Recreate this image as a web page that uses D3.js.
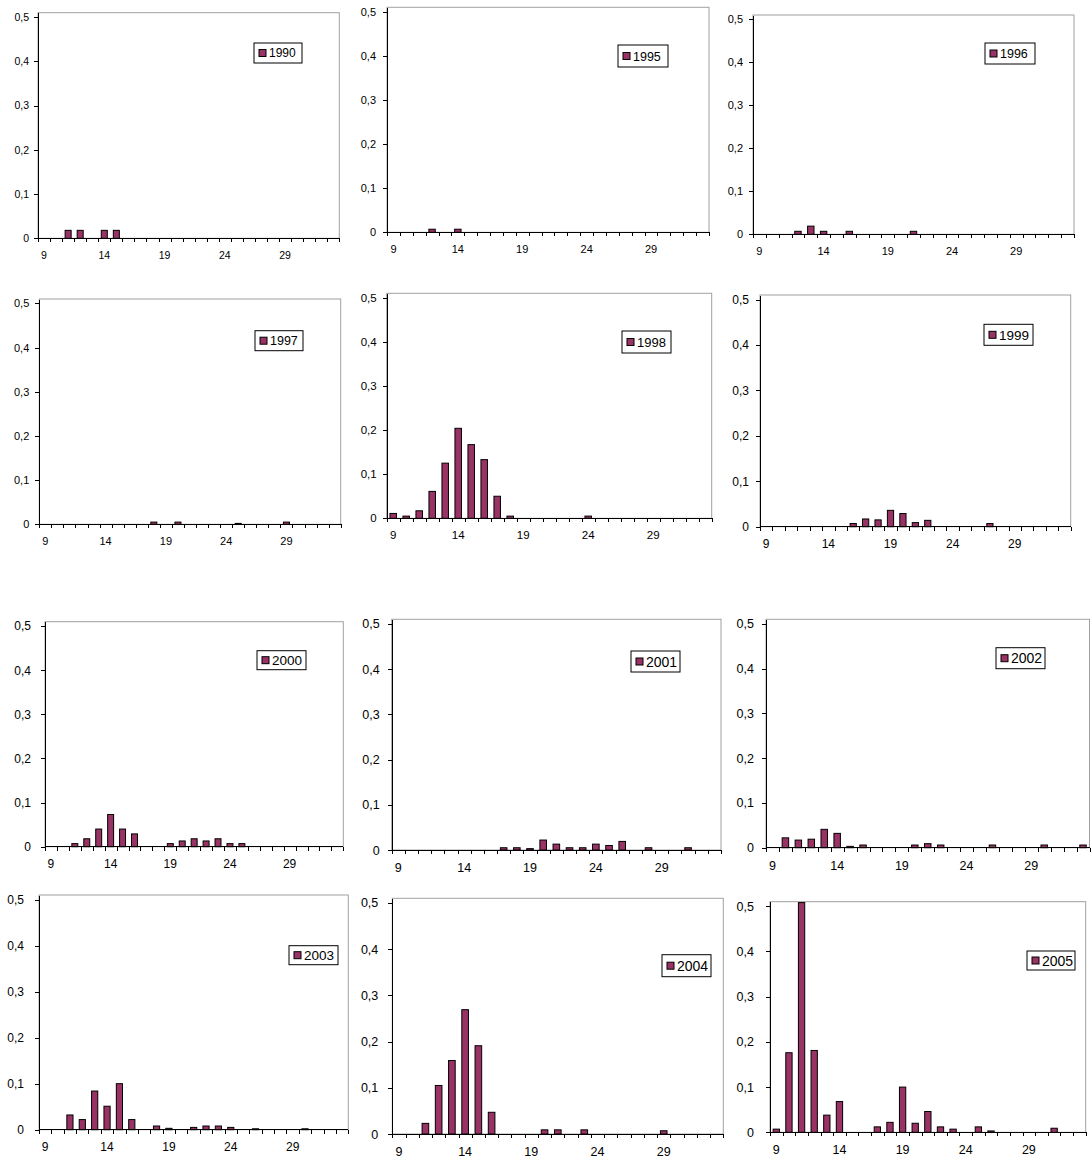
<!DOCTYPE html>
<html>
<head>
<meta charset="utf-8">
<style>
    body {
        margin: 0;
        background: white;
        font-family: "Liberation Sans", Arial, sans-serif;
    }
    #view {
        display: block;
        width: 1092px;
        height: 1160px;
    }
    .frame { fill: none; stroke: #a0a0a0; stroke-width: 1; }
    .bar { fill: #993366; stroke: black; stroke-width: 1; }
    .axis path, .axis line { stroke: black; shape-rendering: crispEdges; }
    .axis text { fill: black; }
    .legend rect.box { fill: white; stroke: black; stroke-width: 1; }
</style>
</head>
<body>

<svg id="view"></svg>

<script src="https://cdnjs.cloudflare.com/ajax/libs/d3/7.8.5/d3.min.js"></script>

<script>
    // ages on the x axis
    const ages = [9, 10, 11, 12, 13, 14, 15, 16, 17, 18, 19, 20, 21, 22, 23, 24, 25, 26, 27, 28, 29, 30, 31, 32, 33];
    const ageLabels = [9, 14, 19, 24, 29];
    const yTicks = [0, 0.1, 0.2, 0.3, 0.4, 0.5];
    const yMax = 0.51;

    const years = ['1990', '1995', '1996', '1997', '1998', '1999', '2000', '2001', '2002', '2003', '2004', '2005'];

    // share per age, one array per year (ages 9..33)
    const v1990 = [0, 0, .018, .018, 0, .018, .018, 0, 0, 0, 0, 0, 0, 0, 0, 0, 0, 0, 0, 0, 0, 0, 0, 0, 0];
    const v1995 = [0, 0, 0, .007, 0, .007, 0, 0, 0, 0, 0, 0, 0, 0, 0, 0, 0, 0, 0, 0, 0, 0, 0, 0, 0];
    const v1996 = [0, 0, 0, .007, .019, .007, 0, .007, 0, 0, 0, 0, .007, 0, 0, 0, 0, 0, 0, 0, 0, 0, 0, 0, 0];
    const v1997 = [0, 0, 0, 0, 0, 0, 0, 0, 0, .005, 0, .005, 0, 0, 0, 0, .002, 0, 0, 0, .005, 0, 0, 0, 0];
    const v1998 = [.011, .005, .017, .061, .125, .204, .167, .133, .05, .005, 0, 0, 0, 0, 0, .005, 0, 0, 0, 0, 0, 0, 0, 0, 0];
    const v1999 = [0, 0, 0, 0, 0, 0, 0, .007, .017, .015, .036, .029, .009, .014, 0, 0, 0, 0, .007, 0, 0, 0, 0, 0, 0];
    const v2000 = [0, 0, .007, .018, .04, .073, .04, .029, 0, 0, .007, .013, .018, .013, .018, .007, .007, 0, 0, 0, 0, 0, 0, 0, 0];
    const v2001 = [0, 0, 0, 0, 0, 0, 0, 0, .005, .005, .003, .022, .013, .005, .005, .013, .01, .019, 0, .005, 0, 0, .005, 0, 0];
    const v2002 = [0, .022, .017, .019, .041, .032, .003, .006, 0, 0, 0, .006, .009, .006, 0, 0, 0, .006, 0, 0, 0, .006, 0, 0, .006];
    const v2003 = [0, 0, .032, .022, .084, .051, .1, .022, 0, .008, .003, 0, .005, .008, .008, .005, 0, .002, 0, 0, 0, .002, 0, 0, 0];
    const v2004 = [0, 0, .023, .105, .159, .269, .191, .047, 0, 0, 0, .009, .009, 0, .009, 0, 0, 0, 0, 0, .007, 0, 0, 0, 0];
    const v2005 = [.007, .176, .508, .181, .038, .068, 0, 0, .012, .022, .1, .02, .046, .012, .007, 0, .012, .003, 0, 0, 0, 0, .009, 0, 0];

    const series = [v1990, v1995, v1996, v1997, v1998, v1999, v2000, v2001, v2002, v2003, v2004, v2005];

    // panel boxes: plot left, top, bottom, right, legend x/y/w/h, font size, y label gap
    const panels = [
        [38, 12.7, 238.3, 339.3, 254, 43, 48, 20, 10.5, 5],
        [387, 7.3, 232.3, 709, 618, 45, 50, 22, 11, 7],
        [753, 15, 234.3, 1074, 985, 43, 50, 21, 11, 6],
        [39.3, 299, 524.3, 340.7, 255, 330.7, 48, 20, 11, 6],
        [386.7, 293.3, 518.3, 711.7, 622, 331, 49, 22, 11.5, 6],
        [760, 295, 526.7, 1070.7, 984, 324.3, 49, 21, 12, 7],
        [45, 621.7, 846.7, 343.3, 257, 650.7, 49, 19, 12, 10],
        [391.7, 619.3, 850, 721, 631, 651, 49, 21, 12.5, 8],
        [766, 619.3, 847.7, 1089.5, 996, 647.7, 49, 21, 12.5, 8],
        [39, 895, 1129.7, 348.3, 289, 945.7, 49, 19, 12, 11],
        [392.3, 898.3, 1134, 723.3, 662, 954.7, 49, 22, 12.5, 10],
        [770, 901.7, 1132.3, 1085.7, 1027, 951, 48, 19, 12.5, 12]
    ];

    const svg = d3.select('#view');

    function fmt(d) {
        return d === 0 ? '0' : d3.format('.1f')(d).replace('.', ',');
    }

    function drawPanel(k) {
        const [L, T, B, R, lx, ly, lw, lh, fs, pad] = panels[k];
        const vals = series[k];

        const x = d3.scaleBand().domain(ages).range([L, R]).paddingInner(0.5).paddingOuter(0.25);
        const y = d3.scaleLinear().domain([0, yMax]).range([B, T]);
        const step = x.step();

        const g = svg.append('g').attr('class', 'panel');

        // plot frame (grey top and right)
        g.append('rect').attr('class', 'frame')
            .attr('x', L).attr('y', T)
            .attr('width', R - L).attr('height', B - T);

        // bars
        g.selectAll('rect.bar')
            .data(ages.map((a, i) => ({age: a, v: vals[i]})).filter(d => d.v > 0))
            .join('rect')
            .attr('class', 'bar')
            .attr('x', d => x(d.age))
            .attr('y', d => y(d.v))
            .attr('width', x.bandwidth())
            .attr('height', d => y(0) - y(d.v));

        // y axis
        g.append('g').attr('class', 'axis')
            .attr('transform', `translate(${L},0)`)
            .style('font-size', fs + 'px')
            .style('font-family', '"Liberation Sans", Arial, sans-serif')
            .call(d3.axisLeft(y).tickValues(yTicks).tickSize(4).tickSizeOuter(0).tickPadding(pad).tickFormat(fmt));

        // x axis: labels at category centres
        g.append('g').attr('class', 'axis')
            .attr('transform', `translate(0,${B})`)
            .style('font-size', fs + 'px')
            .style('font-family', '"Liberation Sans", Arial, sans-serif')
            .call(d3.axisBottom(x).tickValues(ageLabels).tickSize(0).tickSizeOuter(0).tickPadding(13))
            .call(a => a.select('.domain').attr('d', `M${L},0H${R}`));

        // tick marks between categories, Excel style
        const edges = ages.map(a => x(a) - step * 0.25).concat([R]);
        g.append('g').attr('class', 'axis')
            .selectAll('line')
            .data(edges)
            .join('line')
            .attr('x1', d => Math.round(d) + 0.5).attr('x2', d => Math.round(d) + 0.5)
            .attr('y1', B).attr('y2', B + 4);

        // legend
        const lg = g.append('g').attr('class', 'legend').attr('transform', `translate(${lx},${ly})`);
        lg.append('rect').attr('class', 'box').attr('width', lw).attr('height', lh);
        lg.append('rect').attr('class', 'bar')
            .attr('x', 5).attr('y', lh / 2 - 3.5)
            .attr('width', 7).attr('height', 7);
        lg.append('text')
            .attr('x', 15).attr('y', lh / 2)
            .attr('dy', '0.36em')
            .style('font-size', (fs + 1.5) + 'px')
            .text(years[k]);
    }

    years.forEach((yr, k) => drawPanel(k));
</script>

</body>
</html>
